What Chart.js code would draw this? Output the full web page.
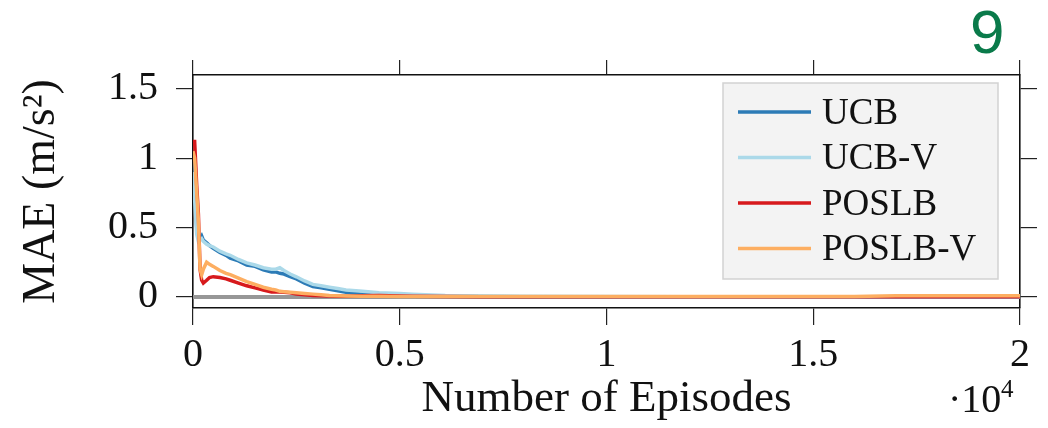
<!DOCTYPE html>
<html lang="en">
<head>
    <meta charset="UTF-8">
    <title>MAE vs Number of Episodes</title>
    <script src="https://cdn.jsdelivr.net/npm/chart.js"></script>
    <style>
        body { margin: 0; background: #fff; }
    </style>
</head>
<body>
    <canvas id="maeChart" width="1048" height="428"></canvas>

    <script>
        // values (episodes on x, MAE in m/s^2 on y)
        const episodes = [0, 40, 90, 130, 170, 210, 250, 330, 400, 490, 650, 800, 900, 1100, 1300, 1500, 1700, 1900, 2000, 2100, 2200, 2350, 2500, 2700, 2900, 3100, 3300, 3500, 3700, 4100, 4500, 5000, 5300, 6100, 7000, 8000, 10000, 12000, 14000, 16000, 17000, 18000, 20000];
        const ucb = [1.0, 0.75, 0.5, 0.44, 0.42, 0.44, 0.41, 0.39, 0.37, 0.35, 0.32, 0.3, 0.28, 0.26, 0.23, 0.22, 0.195, 0.18, 0.18, 0.17, 0.165, 0.146, 0.13, 0.1, 0.075, 0.066, 0.055, 0.045, 0.034, 0.02, 0.01, 0.007, 0.005, 0.004, 0.003, 0.002, 0.002, 0.001, 0.001, 0.001, 0.001, 0.001, 0.001];
        const ucbV = [0.9, 0.7, 0.45, 0.4, 0.41, 0.42, 0.4, 0.38, 0.37, 0.36, 0.33, 0.31, 0.3, 0.27, 0.245, 0.23, 0.21, 0.2, 0.2, 0.21, 0.19, 0.165, 0.145, 0.115, 0.09, 0.08, 0.07, 0.06, 0.05, 0.04, 0.03, 0.025, 0.02, 0.01, 0.006, 0.004, 0.003, 0.002, 0.002, 0.002, 0.002, 0.002, 0.002];
        const poslb = [1.12, 1.12, 0.8, 0.6, 0.2, 0.12, 0.1, 0.12, 0.14, 0.146, 0.14, 0.13, 0.12, 0.1, 0.08, 0.065, 0.05, 0.035, 0.035, 0.035, 0.033, 0.03, 0.02, 0.015, 0.01, 0.008, 0.006, 0.005, 0.005, 0.008, 0.01, 0.006, 0.004, 0.003, 0.002, 0.001, 0.001, 0.001, 0.001, 0.001, 0.001, 0.001, 0.001];
        const poslbV = [1.05, 1.0, 0.75, 0.55, 0.2, 0.16, 0.2, 0.25, 0.235, 0.22, 0.19, 0.17, 0.16, 0.135, 0.11, 0.09, 0.07, 0.055, 0.05, 0.04, 0.038, 0.034, 0.03, 0.025, 0.02, 0.015, 0.01, 0.008, 0.007, 0.005, 0.004, 0.003, 0.003, 0.003, 0.003, 0.003, 0.003, 0.003, 0.003, 0.003, 0.008, 0.008, 0.008];
        const zeroEpisodes = [0, 20000];
        const zeroLine = [0, 0];

        const xTicks = [0, 5000, 10000, 15000, 20000];
        const yTicks = [0, 0.5, 1, 1.5];

        const serif = '"Liberation Serif", "DejaVu Serif", serif';

        function toPoints(xs, ys) {
            return xs.map((x, i) => ({ x: x, y: ys[i] }));
        }

        function series(label, ys, color, order) {
            return {
                label: label,
                data: toPoints(episodes, ys),
                borderColor: color,
                backgroundColor: color,
                borderWidth: 3.5,
                pointRadius: 0,
                tension: 0,
                order: order
            };
        }

        // legend drawn inside the plot, top right, like the original
        const boxLegend = {
            id: 'boxLegend',
            afterDraw(chart) {
                const ctx = chart.ctx;
                const area = chart.chartArea;
                const x = area.right - 297, y = area.top + 8, w = 275, h = 196;
                ctx.save();
                ctx.fillStyle = '#f3f3f3';
                ctx.strokeStyle = '#d2d2d2';
                ctx.lineWidth = 1.5;
                ctx.fillRect(x, y, w, h);
                ctx.strokeRect(x, y, w, h);
                ctx.font = '37px ' + serif;
                ctx.textBaseline = 'middle';
                ctx.fillStyle = '#111';
                chart.data.datasets.filter(d => d.inLegend !== false).forEach((d, i) => {
                    const cy = y + 29 + i * 45.5;
                    ctx.strokeStyle = d.borderColor;
                    ctx.lineWidth = 3.5;
                    ctx.beginPath();
                    ctx.moveTo(x + 15, cy);
                    ctx.lineTo(x + 88, cy);
                    ctx.stroke();
                    ctx.fillText(d.label, x + 99, cy + 2);
                });
                ctx.restore();
            }
        };

        // panel number and the x10^4 multiplier
        const extras = {
            id: 'extras',
            afterDraw(chart) {
                const ctx = chart.ctx;
                const area = chart.chartArea;
                ctx.save();
                ctx.fillStyle = '#0a7a4a';
                ctx.font = '62px "Liberation Sans", Arial, sans-serif';
                ctx.textBaseline = 'alphabetic';
                ctx.fillText('9', 970, 53);
                ctx.fillStyle = '#111';
                ctx.font = '40px ' + serif;
                ctx.fillText('\u00b710', area.right - 72, 412);
                ctx.font = '25px ' + serif;
                ctx.fillText('4', area.right - 19, 397);
                ctx.restore();
            }
        };

        const ctx = document.getElementById('maeChart').getContext('2d');

        const tickGrid = {
            display: true,
            drawOnChartArea: false,
            drawTicks: true,
            tickLength: 17,
            color: '#222',
            lineWidth: 1.2
        };
        const frame = { display: true, color: '#111', width: 1.6 };

        new Chart(ctx, {
            type: 'line',
            data: {
                datasets: [
                    series('UCB', ucb, '#2c7bb6', 4),
                    series('UCB-V', ucbV, '#abd9e9', 3),
                    series('POSLB', poslb, '#d7191c', 2),
                    series('POSLB-V', poslbV, '#fdae61', 1),
                    {
                        label: 'zero',
                        inLegend: false,
                        data: toPoints(zeroEpisodes, zeroLine),
                        borderColor: '#979797',
                        borderWidth: 4,
                        pointRadius: 0,
                        order: 10
                    }
                ]
            },
            options: {
                responsive: false,
                animation: false,
                layout: { padding: { top: 75, right: 28, left: 0, bottom: 0 } },
                plugins: {
                    legend: { display: false },
                    tooltip: { enabled: false }
                },
                scales: {
                    x: {
                        type: 'linear',
                        position: 'bottom',
                        min: 0,
                        max: 20000,
                        afterBuildTicks: s => { s.ticks = xTicks.map(v => ({ value: v })); },
                        afterFit: s => { s.height = 120; },
                        grid: tickGrid,
                        border: frame,
                        ticks: {
                            padding: 6,
                            color: '#111',
                            maxRotation: 0,
                            font: { family: serif, size: 40 },
                            callback: v => String(v / 10000)
                        },
                        title: {
                            display: true,
                            text: 'Number of Episodes',
                            color: '#111',
                            font: { family: serif, size: 45 },
                            padding: { top: 4, bottom: 2 }
                        }
                    },
                    x2: {
                        type: 'linear',
                        position: 'top',
                        min: 0,
                        max: 20000,
                        afterBuildTicks: s => { s.ticks = xTicks.map(v => ({ value: v })); },
                        afterFit: s => { s.height = 0; },
                        grid: Object.assign({}, tickGrid, { tickLength: 15 }),
                        border: frame,
                        ticks: { display: false }
                    },
                    y: {
                        type: 'linear',
                        position: 'left',
                        min: -0.08,
                        max: 1.6,
                        afterBuildTicks: s => { s.ticks = yTicks.map(v => ({ value: v })); },
                        afterFit: s => { s.width = 193; },
                        grid: tickGrid,
                        border: frame,
                        ticks: {
                            padding: 18,
                            color: '#111',
                            font: { family: serif, size: 40 },
                            callback: v => String(v)
                        },
                        title: {
                            display: true,
                            text: 'MAE (m/s\u00b2)',
                            color: '#111',
                            font: { family: serif, size: 46 },
                            padding: { top: 14, bottom: 0 }
                        }
                    },
                    y2: {
                        type: 'linear',
                        position: 'right',
                        min: -0.08,
                        max: 1.6,
                        afterBuildTicks: s => { s.ticks = yTicks.map(v => ({ value: v })); },
                        afterFit: s => { s.width = 0; },
                        grid: tickGrid,
                        border: frame,
                        ticks: { display: false }
                    }
                }
            },
            plugins: [boxLegend, extras]
        });
    </script>
</body>
</html>
